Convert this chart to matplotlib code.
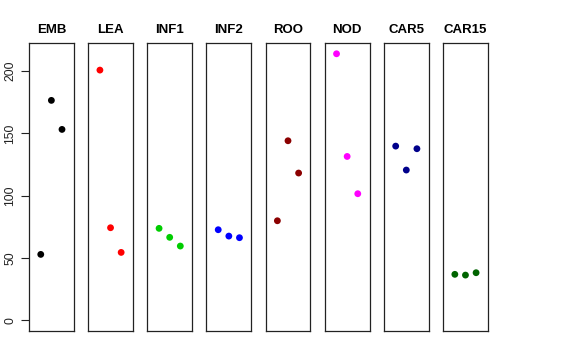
import numpy as np
import matplotlib
matplotlib.use("Agg")
import matplotlib.pyplot as plt

plt.rcParams['font.family'] = ['Liberation Sans', 'DejaVu Sans']

# tissues and their three values each
tissues = ["EMB", "LEA", "INF1", "INF2", "ROO", "NOD", "CAR5", "CAR15"]
colors = ["black", "red", "#00CD00", "blue", "#8B0000", "magenta", "#00008B", "#006400"]
emb = [52.9, 176.5, 153.2]
lea = [200.8, 74.3, 54.5]
inf1 = [73.8, 66.6, 59.6]
inf2 = [72.7, 67.6, 66.3]
roo = [79.9, 144.1, 118.2]
nod = [213.9, 131.5, 101.6]
car5 = [139.8, 120.6, 137.7]
car15 = [36.9, 36.3, 38.2]
values = [emb, lea, inf1, inf2, roo, nod, car5, car15]
reps = [1, 2, 3]

fig, axes = plt.subplots(1, 8, figsize=(5.76, 3.6), dpi=100, sharey=True)
fig.subplots_adjust(left=0.0503, right=0.847, top=0.8806, bottom=0.0806, wspace=0.32)

for ax, name, col, vals in zip(axes, tissues, colors, values):
    ax.scatter(reps, vals, s=24, color=col, edgecolors='none')
    ax.set_xlim(-0.11, 4.11)
    ax.set_ylim(-8.56, 222.56)
    ax.set_xticks([])
    ax.set_title(name, fontsize=9.5, fontweight='bold', pad=7)
    for sp in ax.spines.values():
        sp.set_linewidth(0.9)
        sp.set_color('#222222')
    ax.tick_params(axis='y', left=False, labelleft=False)

axes[0].set_yticks([0, 50, 100, 150, 200])
axes[0].tick_params(axis='y', left=True, labelleft=True, length=6, width=0.8,
                    labelsize=8.8, pad=3, colors='#222222')
for lab in axes[0].get_yticklabels():
    lab.set_rotation(90)
    lab.set_va('center')

fig.savefig("out.png", dpi=100)
